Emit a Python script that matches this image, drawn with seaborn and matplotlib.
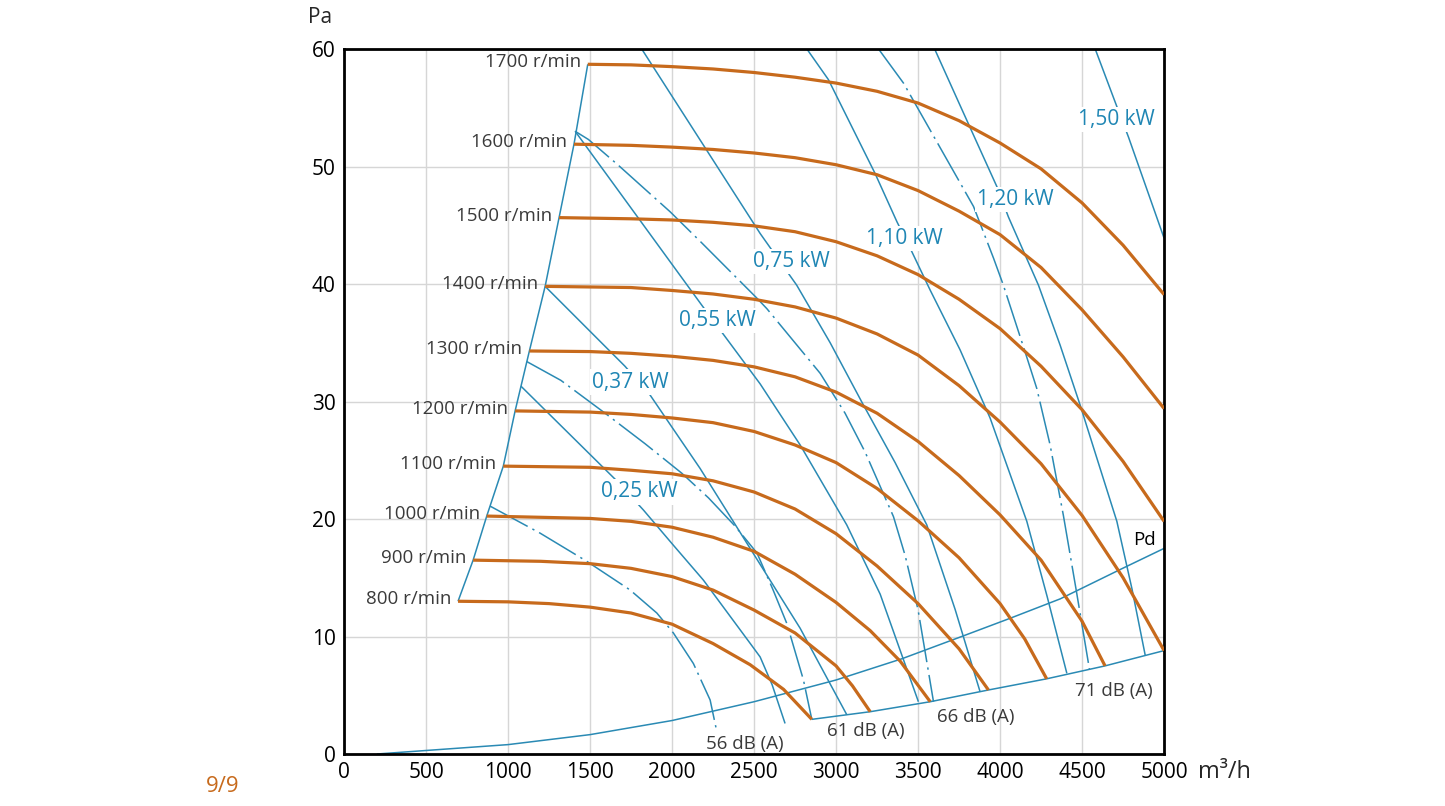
import matplotlib
matplotlib.use("Agg")
import matplotlib.pyplot as plt
import seaborn as sns

# --- fan curves per speed (airflow m3/h, pressure Pa) ---
speeds = [800, 900, 1000, 1100, 1200, 1300, 1400, 1500, 1600, 1700]

q_800 = [695, 1000, 1250, 1500, 1750, 2000, 2250, 2476, 2680, 2852]
p_800 = [13.0, 12.95, 12.8, 12.5, 12.0, 11.05, 9.4, 7.6, 5.5, 2.95]
q_900 = [787, 1200, 1500, 1750, 2000, 2250, 2500, 2750, 3000, 3100, 3208]
p_900 = [16.5, 16.4, 16.2, 15.8, 15.1, 13.95, 12.25, 10.3, 7.5, 5.8, 3.6]
q_1000 = [870, 1500, 1750, 2000, 2250, 2500, 2750, 3000, 3208, 3391, 3574]
p_1000 = [20.25, 20.05, 19.8, 19.3, 18.45, 17.25, 15.3, 12.9, 10.5, 7.9, 4.45]
q_1100 = [971, 1500, 1750, 2000, 2250, 2500, 2750, 3000, 3250, 3500, 3750, 3929]
p_1100 = [24.5, 24.4, 24.15, 23.85, 23.25, 22.3, 20.85, 18.75, 16.0, 12.8, 8.95, 5.45]
q_1200 = [1043, 1500, 1750, 2000, 2250, 2500, 2750, 3000, 3250, 3500, 3750, 4000, 4150, 4284]
p_1200 = [29.2, 29.1, 28.9, 28.6, 28.2, 27.45, 26.3, 24.8, 22.6, 19.85, 16.7, 12.8, 9.8, 6.4]
q_1300 = [1130, 1500, 1750, 2000, 2250, 2500, 2750, 3000, 3250, 3500, 3750, 4000, 4250,
          4500, 4640]
p_1300 = [34.3, 34.25, 34.1, 33.85, 33.5, 32.95, 32.1, 30.8, 29.0, 26.6, 23.7, 20.35, 16.5,
          11.3, 7.5]
q_1400 = [1226, 1750, 2000, 2250, 2500, 2750, 3000, 3250, 3500, 3750, 4000, 4250, 4500,
          4750, 5000]
p_1400 = [39.8, 39.7, 39.45, 39.15, 38.7, 38.05, 37.1, 35.75, 33.95, 31.35, 28.25, 24.7,
          20.3, 15.0, 8.8]
q_1500 = [1311, 1750, 2000, 2250, 2500, 2750, 3000, 3250, 3500, 3750, 4000, 4250, 4500,
          4750, 5000]
p_1500 = [45.65, 45.55, 45.45, 45.25, 44.95, 44.45, 43.6, 42.4, 40.8, 38.7, 36.2, 33.0,
          29.3, 24.9, 19.8]
q_1600 = [1402, 1750, 2000, 2250, 2500, 2750, 3000, 3250, 3500, 3750, 4000, 4250, 4500,
          4750, 5000]
p_1600 = [51.9, 51.8, 51.65, 51.45, 51.15, 50.75, 50.15, 49.3, 47.95, 46.2, 44.2, 41.4,
          37.8, 33.8, 29.4]
q_1700 = [1486, 1750, 2000, 2250, 2500, 2750, 3000, 3250, 3500, 3750, 4000, 4250, 4500,
          4750, 5000]
p_1700 = [58.7, 58.65, 58.5, 58.3, 58.0, 57.6, 57.1, 56.4, 55.4, 53.9, 52.0, 49.8, 46.9,
          43.3, 39.1]

fan_q = [q_800, q_900, q_1000, q_1100, q_1200, q_1300, q_1400, q_1500, q_1600, q_1700]
fan_p = [p_800, p_900, p_1000, p_1100, p_1200, p_1300, p_1400, p_1500, p_1600, p_1700]

# --- boundaries ---
left_q = [695, 787, 870, 971, 1043, 1130, 1226, 1311, 1402, 1486]
left_p = [13.0, 16.5, 20.25, 24.5, 29.2, 34.3, 39.8, 45.65, 51.9, 58.7]
bottom_q = [2852, 3208, 3574, 3929, 4284, 4640, 5000]
bottom_p = [2.95, 3.6, 4.45, 5.45, 6.4, 7.5, 8.8]
pd_q = [200, 1000, 1500, 2000, 2500, 3000, 3400, 3756, 4061, 4366, 4732, 5000]
pd_p = [0.0, 0.8, 1.65, 2.85, 4.45, 6.3, 8.1, 9.95, 11.55, 13.2, 15.7, 17.5]

# --- shaft power lines ---
kw_025_q = [1079, 1659, 1825, 2006, 2191, 2476, 2537, 2610, 2689]
kw_025_p = [31.3, 23.3, 20.77, 17.8, 14.8, 9.42, 8.26, 5.9, 2.6]
kw_037_q = [1226, 1713, 1866, 2171, 2476, 2781, 3065]
kw_037_p = [39.8, 33.0, 30.55, 24.3, 17.5, 10.7, 3.35]
kw_055_q = [1409, 2181, 2537, 2781, 3065, 3269, 3502]
kw_055_p = [53.0, 38.2, 31.5, 26.3, 19.5, 13.6, 4.45]
kw_075_q = [1815, 2537, 2760, 2964, 3159, 3360, 3553, 3726, 3878]
kw_075_p = [60.0, 44.3, 39.9, 35.0, 29.9, 24.8, 19.5, 12.3, 5.3]
kw_110_q = [2822, 2953, 3238, 3371, 3462, 3573, 3756, 3939, 4163, 4287, 4407]
kw_110_p = [60.0, 57.4, 49.4, 45.3, 42.75, 39.5, 34.4, 28.6, 19.8, 13.4, 6.87]
kw_120_q = [3601, 3756, 3980, 4051, 4234, 4366, 4488, 4610, 4712, 4805, 4885]
kw_120_p = [60.0, 55.2, 48.3, 45.7, 39.9, 34.8, 29.7, 24.3, 19.8, 14.0, 8.4]
kw_150_q = [4580, 4712, 4783, 5000]
kw_150_p = [60.0, 55.1, 52.5, 43.9]

kw_labels = ["0,25 kW", "0,37 kW", "0,55 kW", "0,75 kW", "1,10 kW", "1,20 kW", "1,50 kW"]
kw_q = [kw_025_q, kw_037_q, kw_055_q, kw_075_q, kw_110_q, kw_120_q, kw_150_q]
kw_p = [kw_025_p, kw_037_p, kw_055_p, kw_075_p, kw_110_p, kw_120_p, kw_150_p]

# --- sound level lines ---
db_56_q = [890, 1195, 1480, 1744, 1907, 2008, 2130, 2232, 2273]
db_56_p = [21.1, 18.8, 16.4, 13.96, 12.0, 10.3, 7.7, 4.6, 1.9]
db_61_q = [1114, 1322, 1592, 1836, 2059, 2222, 2384, 2518, 2616, 2700, 2801, 2852]
db_61_p = [33.4, 31.8, 29.0, 26.4, 23.9, 21.8, 19.4, 17.1, 13.96, 11.1, 6.3, 2.95]
db_66_q = [1409, 1490, 1673, 1988, 2181, 2517, 2578, 2903, 3055, 3177, 3350, 3421, 3500, 3594]
db_66_p = [53.0, 52.3, 50.1, 46.15, 43.5, 38.8, 37.9, 32.4, 29.0, 25.7, 20.2, 16.9, 12.26, 4.45]
db_71_q = [3259, 3411, 3838, 3960, 4020, 4153, 4224, 4305, 4386, 4464, 4545]
db_71_p = [60.0, 57.1, 46.6, 42.2, 39.9, 34.2, 31.1, 26.3, 20.3, 13.96, 7.2]

db_labels = ["56 dB (A)", "61 dB (A)", "66 dB (A)", "71 dB (A)"]
db_q = [db_56_q, db_61_q, db_66_q, db_71_q]
db_p = [db_56_p, db_61_p, db_66_p, db_71_p]

# label anchor positions (data coords)
kw_label_pos = [(1799, 22.3), (1744, 31.66), (2275, 36.9), (2726, 41.9),
                (3415, 43.9), (4092, 47.2), (4708, 54.0)]
db_label_pos = [(2446, 0.85), (3183, 1.96), (3854, 3.19), (4695, 5.36)]

ORANGE = "#c76a1c"
BLUE = "#2a8ab4"
BLUE_TXT = "#1f86b4"
GREY_TXT = "#3a3a3a"

sns.set_theme(style="white")
plt.rcParams['font.family'] = ['Open Sans', 'DejaVu Sans']

fig = plt.figure(figsize=(14.45, 8.06), dpi=100)
ax = fig.add_axes([0.2381, 0.0645, 0.5675, 0.8747])


def draw(q, p, color, lw, z, dashes=None):
    sns.lineplot(x=q, y=p, ax=ax, color=color, lw=lw, sort=False,
                 estimator=None, zorder=z)
    line = ax.lines[-1]
    line.set_solid_capstyle("butt")
    line.set_solid_joinstyle("round")
    if dashes:
        line.set_dashes(dashes)


# boundaries and Pd
draw(left_q, left_p, BLUE, 1.1, 2)
draw(bottom_q, bottom_p, BLUE, 1.1, 2)
draw(pd_q, pd_p, BLUE, 1.1, 2)

# power lines + labels
for q, p in zip(kw_q, kw_p):
    draw(q, p, BLUE, 1.1, 2)
for lab, (x, y) in zip(kw_labels, kw_label_pos):
    ax.text(x, y, lab, color=BLUE_TXT, fontsize=15, ha="center", va="center",
            zorder=3, bbox=dict(facecolor="white", edgecolor="none", pad=1.5))

# sound lines + labels
for q, p in zip(db_q, db_p):
    draw(q, p, BLUE, 1.1, 2, dashes=[28, 3.5, 1.5, 3.5])
for lab, (x, y) in zip(db_labels, db_label_pos):
    ax.text(x, y, lab, color=GREY_TXT, fontsize=13.5, ha="center", va="center", zorder=5)

# fan curves + speed labels
for n, q, p in zip(speeds, fan_q, fan_p):
    draw(q, p, ORANGE, 2.3, 4)
    ax.annotate(f"{n} r/min", xy=(q[0], p[0]), xytext=(-5, 1.5),
                textcoords="offset points", ha="right", va="center",
                fontsize=13.5, color=GREY_TXT, zorder=5)

ax.text(4878, 18.2, "Pd", color="black", fontsize=13.5, ha="center", va="center", zorder=5)

ax.set_xlim(0, 5000)
ax.set_ylim(0, 60)
ax.set_xticks(range(0, 5001, 500))
ax.set_yticks(range(0, 61, 10))
ax.set_xlabel("")
ax.set_ylabel("")
ax.grid(True, color="#d6d6d6", lw=1.0)
ax.set_axisbelow(True)
for s in ax.spines.values():
    s.set_color("black")
    s.set_linewidth(2.0)
ax.tick_params(length=0, labelsize=15, colors="black", pad=6)

ax.text(-0.029, 1.044, "Pa", transform=ax.transAxes, ha="center", va="center", fontsize=15)
ax.text(1.074, -0.026, "m³/h", transform=ax.transAxes, ha="center", va="center", fontsize=17)
fig.text(0.154, 0.0248, "9/9", color=ORANGE, fontsize=16, ha="center", va="center")

fig.savefig("out.png", dpi=100)
